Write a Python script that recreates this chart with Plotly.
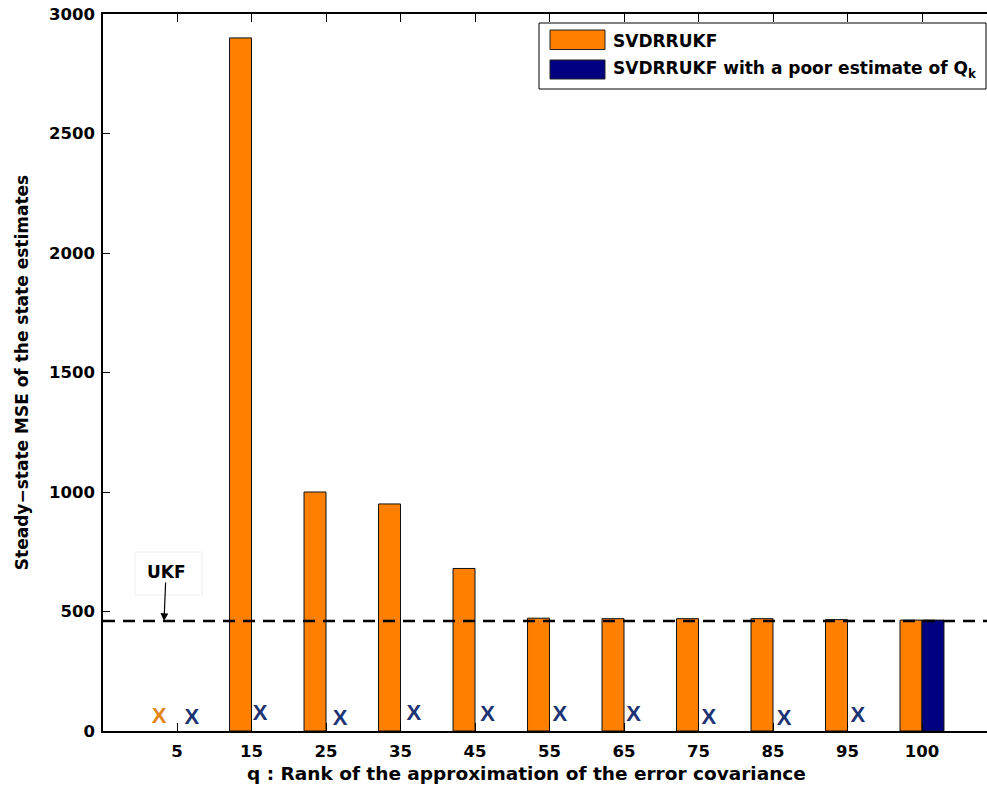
import plotly.graph_objects as go

# ---- data -------------------------------------------------------------
q_labels = ["5", "15", "25", "35", "45", "55", "65", "75", "85", "95", "100"]
svdrrukf_mse = [None, 2900, 1000, 950, 680, 472, 470, 470, 470, 466, 464]
poor_q_mse = [None, None, None, None, None, None, None, None, None, None, 464]
ukf_mse = 460

# runs that diverged are marked with an "X" at these heights instead of a bar
svdrrukf_cross_level = [56, None, None, None, None, None, None, None, None, None, None]
poor_q_cross_level = [54, 67, 50, 71, 63, 63, 63, 54, 50, 59, None]

# ---- layout constants -------------------------------------------------
W, H = 987, 785
PL, PR, PT, PB = 103, 987, 14, 731          # plot area in pixels
BAR_W = 0.295                               # width of one bar (category units)
svdrrukf_cross_dx = [-0.24] + [0.0] * 10
poor_q_cross_dx = [0.20, 0.114, 0.19, 0.18, 0.17, 0.14, 0.13, 0.14, 0.15, 0.14, 0.0]

FONT = "DejaVu Sans, Liberation Sans, Arial, sans-serif"
XFONT = "Liberation Sans, Arial, Helvetica, sans-serif"
ORANGE, NAVY = "#FF8000", "#000080"
ORANGE_X, NAVY_X = "#E2861A", "#1D3373"


def px_x(p):
    return (p - PL) / (PR - PL)


def px_y(p):
    return (PB - p) / (PB - PT)


idx = list(range(len(q_labels)))

fig = go.Figure()

fig.add_trace(go.Bar(
    x=idx, y=svdrrukf_mse, name="SVDRRUKF",
    offset=-BAR_W, width=BAR_W,
    marker=dict(color=ORANGE, line=dict(color="#111111", width=1)),
    showlegend=False,
))
fig.add_trace(go.Bar(
    x=idx, y=poor_q_mse, name="SVDRRUKF with a poor estimate of Q<sub>k</sub>",
    offset=0, width=BAR_W,
    marker=dict(color=NAVY, line=dict(color="#111111", width=1)),
    showlegend=False,
))


def cross_trace(values, levels, dxs, color):
    xs, ys = [], []
    for i, (v, lv, dx) in enumerate(zip(values, levels, dxs)):
        if v is None and lv is not None:
            xs.append(i + dx)
            ys.append(lv)
    return go.Scatter(
        x=xs, y=ys, mode="text", text=["X"] * len(xs),
        textposition="middle center",
        textfont=dict(family=XFONT, size=22, color=color, weight="bold"),
        showlegend=False, hoverinfo="skip",
    )


fig.add_trace(cross_trace(svdrrukf_mse, svdrrukf_cross_level, svdrrukf_cross_dx, ORANGE_X))
fig.add_trace(cross_trace(poor_q_mse, poor_q_cross_level, poor_q_cross_dx, NAVY_X))

# UKF reference level
fig.add_shape(type="line", xref="paper", x0=0, x1=1, yref="y", y0=ukf_mse, y1=ukf_mse,
              line=dict(color="black", width=2.5, dash="12px,8px"), layer="above")

# faint frame around the UKF label
fig.add_shape(type="rect", xref="paper", yref="paper",
              x0=px_x(135), x1=px_x(202), y0=px_y(595), y1=px_y(552),
              line=dict(color="#eeeeee", width=1), fillcolor="rgba(0,0,0,0)", layer="above")

annotations = [
    # UKF label with its arrow pointing at the reference level
    dict(x=-0.174, y=ukf_mse, xref="x", yref="y", text="<b>UKF</b>", showarrow=True,
         ax=2, ay=-49, arrowhead=2, arrowsize=1.3, arrowwidth=1.2, arrowcolor="black",
         font=dict(family=FONT, size=17, color="black"), borderpad=0),
    # x axis title
    dict(x=px_x(526), y=px_y(773), xref="paper", yref="paper",
         text="<b>q : Rank of the approximation of the error covariance</b>",
         showarrow=False, xanchor="center", yanchor="middle",
         font=dict(family=FONT, size=18.5, color="black")),
]

# legend box
shapes = [
    dict(type="rect", xref="paper", yref="paper", x0=px_x(539), x1=px_x(986),
         y0=px_y(89), y1=px_y(23), line=dict(color="black", width=1), fillcolor="white",
         layer="above"),
    dict(type="rect", xref="paper", yref="paper", x0=px_x(550), x1=px_x(605),
         y0=px_y(49.5), y1=px_y(30), line=dict(color="#222222", width=1), fillcolor=ORANGE,
         layer="above"),
    dict(type="rect", xref="paper", yref="paper", x0=px_x(550), x1=px_x(605),
         y0=px_y(79), y1=px_y(60), line=dict(color="#222222", width=1), fillcolor=NAVY,
         layer="above"),
]
for s in shapes:
    fig.add_shape(**s)

for trace_name, ymid in ((fig.data[0].name, 40.5), (fig.data[1].name, 70)):
    annotations.append(dict(
        x=px_x(611), y=px_y(ymid), xref="paper", yref="paper",
        text=f"<b>{trace_name}</b>", showarrow=False, xanchor="left", yanchor="middle",
        font=dict(family=FONT, size=17, color="black")))

fig.update_layout(
    width=W, height=H,
    margin=dict(l=PL, r=W - PR, t=PT, b=H - PB, autoexpand=False),
    paper_bgcolor="white", plot_bgcolor="white",
    barmode="overlay",
    annotations=annotations,
    font=dict(family=FONT, color="black"),
    xaxis=dict(
        range=[-74 / 74.5, (PR - 177) / 74.5],
        tickmode="array", tickvals=idx, ticktext=q_labels,
        ticks="inside", ticklen=8, tickwidth=1, tickcolor="black",
        showline=True, linecolor="black", linewidth=1.5, mirror="ticks",
        showgrid=False, zeroline=False, ticklabelstandoff=4,
        tickfont=dict(family=FONT, size=16.5, color="black", weight="bold"),
    ),
    yaxis=dict(
        range=[0, 3000], tickmode="array", tickvals=[0, 500, 1000, 1500, 2000, 2500, 3000],
        ticks="inside", ticklen=7, tickwidth=1, tickcolor="black",
        showline=True, linecolor="black", linewidth=1.5, mirror=False,
        showgrid=False, zeroline=False, ticklabelstandoff=3,
        tickfont=dict(family=FONT, size=16.5, color="black", weight="bold"),
        title=dict(text="<b>Steady−state MSE of the state estimates</b>", standoff=16,
                   font=dict(family=FONT, size=17, color="black")),
    ),
)

fig.write_html("out.html")
